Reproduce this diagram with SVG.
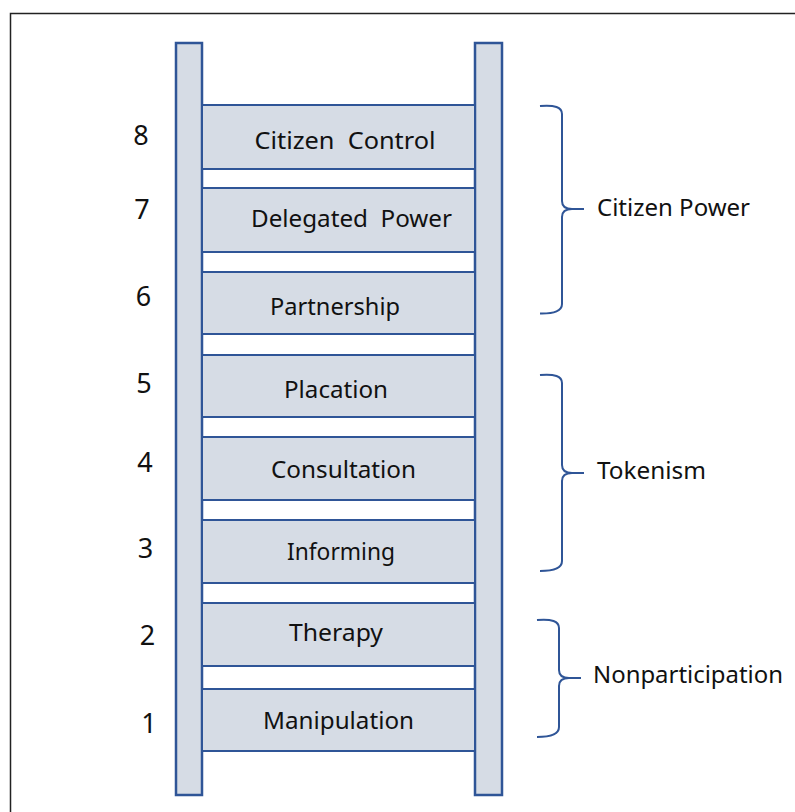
<svg xmlns="http://www.w3.org/2000/svg" width="795" height="812" viewBox="0 0 795 812">
<style>
.rail{fill:#D6DCE5;stroke:#2F5597;stroke-width:2.5}
.rung{fill:#D6DCE5;stroke:#2F5597;stroke-width:2}
.lbl{font-family:"Noto Sans","DejaVu Sans",sans-serif;font-size:23.5px;fill:#111;text-anchor:middle;white-space:pre}
.num{font-family:"Noto Sans","DejaVu Sans",sans-serif;font-size:27px;fill:#111;text-anchor:middle}
.grp{font-family:"Noto Sans","DejaVu Sans",sans-serif;font-size:23.5px;fill:#111}
.brace{fill:none;stroke:#2F5597;stroke-width:2}
.frame{fill:none;stroke:#222;stroke-width:1.5}
</style>
<rect width="795" height="812" fill="#fff"/>
<path class="frame" d="M10.5,812 V13.5 H795"/>
<g id="rails">
<rect class="rail" x="176" y="43" width="26" height="752"/>
<rect class="rail" x="475" y="43" width="27" height="752"/>
</g>
<g id="rung8"><rect class="rung" x="202" y="105" width="273" height="64"/><text class="lbl" x="345" y="149" textLength="181" lengthAdjust="spacingAndGlyphs">Citizen  Control</text><text class="num" x="141" y="145">8</text></g>
<g id="rung7"><rect class="rung" x="202" y="188" width="273" height="64"/><text class="lbl" x="351.5" y="227" textLength="201" lengthAdjust="spacingAndGlyphs">Delegated  Power</text><text class="num" x="142" y="219">7</text></g>
<g id="rung6"><rect class="rung" x="202" y="272" width="273" height="62"/><text class="lbl" x="335" y="315" textLength="130" lengthAdjust="spacingAndGlyphs">Partnership</text><text class="num" x="143.5" y="306">6</text></g>
<g id="rung5"><rect class="rung" x="202" y="355" width="273" height="62"/><text class="lbl" x="336" y="398" textLength="104" lengthAdjust="spacingAndGlyphs">Placation</text><text class="num" x="144" y="393">5</text></g>
<g id="rung4"><rect class="rung" x="202" y="437" width="273" height="63"/><text class="lbl" x="343.5" y="477.5" textLength="145" lengthAdjust="spacingAndGlyphs">Consultation</text><text class="num" x="145" y="472">4</text></g>
<g id="rung3"><rect class="rung" x="202" y="520" width="273" height="63"/><text class="lbl" x="341" y="560" textLength="108" lengthAdjust="spacingAndGlyphs">Informing</text><text class="num" x="145.5" y="558">3</text></g>
<g id="rung2"><rect class="rung" x="202" y="603" width="273" height="63"/><text class="lbl" x="336" y="640.5" textLength="94" lengthAdjust="spacingAndGlyphs">Therapy</text><text class="num" x="147.5" y="645">2</text></g>
<g id="rung1"><rect class="rung" x="202" y="689" width="273" height="62"/><text class="lbl" x="338.5" y="729" textLength="151" lengthAdjust="spacingAndGlyphs">Manipulation</text><text class="num" x="149" y="733">1</text></g>
<g id="citizen-power">
<path class="brace" d="M540,106 Q562,104 562,114 L562,201 Q562,209 572,209 L584,209 M572,209 Q562,209 562,217 L562,304 Q562,314 540,313.5"/>
<text class="grp" x="597" y="215.5" textLength="153" lengthAdjust="spacingAndGlyphs">Citizen Power</text>
</g>
<g id="tokenism">
<path class="brace" d="M540,375 Q562,373 562,383 L562,465 Q562,473 572,473 L584,473 M572,473 Q562,473 562,481 L562,561 Q562,571 540,571"/>
<text class="grp" x="597" y="479" textLength="109" lengthAdjust="spacingAndGlyphs">Tokenism</text>
</g>
<g id="nonparticipation">
<path class="brace" d="M537,620 Q559,618 559,628 L559,670 Q559,678 569,678 L581,678 M569,678 Q559,678 559,686 L559,727 Q559,737 537,737"/>
<text class="grp" x="593" y="683" textLength="190" lengthAdjust="spacingAndGlyphs">Nonparticipation</text>
</g>
</svg>
